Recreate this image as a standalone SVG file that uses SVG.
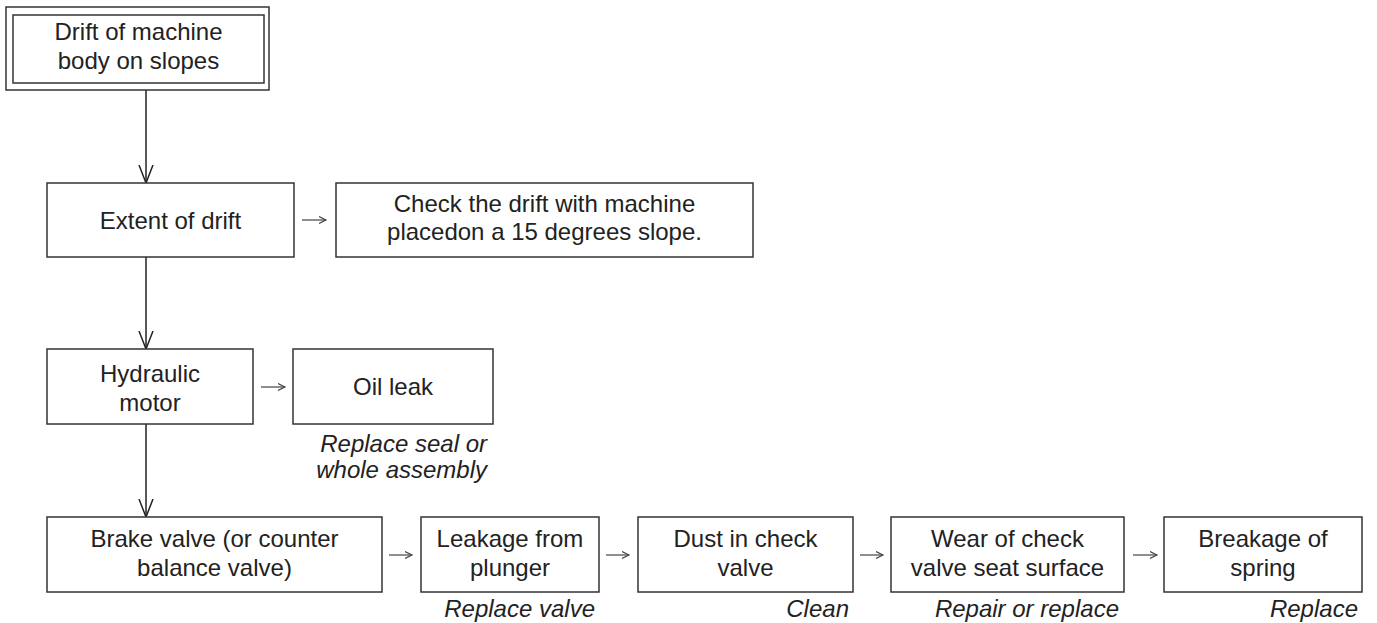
<svg xmlns="http://www.w3.org/2000/svg" width="1377" height="623" viewBox="0 0 1377 623">
  <style>
    .box { fill: #ffffff; stroke: #333333; stroke-width: 1.5; }
    .lbl { font-family: "Liberation Sans", Arial, sans-serif; font-size: 24px; fill: #222222; text-anchor: middle; }
    .note { font-family: "Liberation Sans", Arial, sans-serif; font-size: 24px; font-style: italic; fill: #222222; text-anchor: end; }
    .down { fill: none; stroke: #222222; stroke-width: 1.5; }
    .side { fill: none; stroke: #444444; stroke-width: 1.2; }
  </style>
  <defs>
    <marker id="vee" markerUnits="userSpaceOnUse" markerWidth="20" markerHeight="20" refX="18" refY="8" orient="auto">
      <path d="M0,1 L18,8 L0,15" fill="none" stroke="#222222" stroke-width="1.5"/>
    </marker>
    <marker id="tip" markerUnits="userSpaceOnUse" markerWidth="10" markerHeight="10" refX="7" refY="5" orient="auto">
      <path d="M0,1.5 L7,5 L0,8.5" fill="none" stroke="#444444" stroke-width="1.2"/>
    </marker>
  </defs>

  <rect width="1377" height="623" fill="#ffffff"/>

  <!-- connectors -->
  <g id="connectors">
    <line class="down" x1="146" y1="90" x2="146" y2="183" marker-end="url(#vee)"/>
    <line class="down" x1="146" y1="257" x2="146" y2="349" marker-end="url(#vee)"/>
    <line class="down" x1="146" y1="424" x2="146" y2="517" marker-end="url(#vee)"/>
    <line class="side" x1="302" y1="220" x2="326" y2="220" marker-end="url(#tip)"/>
    <line class="side" x1="261" y1="387" x2="285" y2="387" marker-end="url(#tip)"/>
    <line class="side" x1="389" y1="555" x2="412" y2="555" marker-end="url(#tip)"/>
    <line class="side" x1="606" y1="555" x2="629" y2="555" marker-end="url(#tip)"/>
    <line class="side" x1="860" y1="555" x2="883" y2="555" marker-end="url(#tip)"/>
    <line class="side" x1="1133" y1="555" x2="1157" y2="555" marker-end="url(#tip)"/>
  </g>

  <!-- start node: double border -->
  <g id="n-drift">
    <rect class="box" x="6" y="7" width="263" height="83"/>
    <rect class="box" x="13" y="15" width="251" height="68"/>
    <text class="lbl" x="138.5" y="40">Drift of machine</text>
    <text class="lbl" x="138.5" y="69">body on slopes</text>
  </g>

  <g id="n-extent">
    <rect class="box" x="47" y="183" width="247" height="74"/>
    <text class="lbl" x="170.5" y="229">Extent of drift</text>
  </g>

  <g id="n-check">
    <rect class="box" x="336" y="183" width="417" height="74"/>
    <text class="lbl" x="544.5" y="212">Check the drift with machine</text>
    <text class="lbl" x="544.5" y="240">placedon a 15 degrees slope.</text>
  </g>

  <g id="n-motor">
    <rect class="box" x="47" y="349" width="206" height="75"/>
    <text class="lbl" x="150" y="382">Hydraulic</text>
    <text class="lbl" x="150" y="411">motor</text>
  </g>

  <g id="n-oil">
    <rect class="box" x="293" y="349" width="200" height="75"/>
    <text class="lbl" x="393" y="395">Oil leak</text>
    <text class="note" x="487" y="452">Replace seal or</text>
    <text class="note" x="487" y="478">whole assembly</text>
  </g>

  <g id="n-brake">
    <rect class="box" x="47" y="517" width="335" height="75"/>
    <text class="lbl" x="214.5" y="547">Brake valve (or counter</text>
    <text class="lbl" x="214.5" y="576">balance valve)</text>
  </g>

  <g id="n-plunger">
    <rect class="box" x="421" y="517" width="178" height="75"/>
    <text class="lbl" x="510" y="547">Leakage from</text>
    <text class="lbl" x="510" y="576">plunger</text>
    <text class="note" x="595" y="617">Replace valve</text>
  </g>

  <g id="n-dust">
    <rect class="box" x="638" y="517" width="215" height="75"/>
    <text class="lbl" x="745.5" y="547">Dust in check</text>
    <text class="lbl" x="745.5" y="576">valve</text>
    <text class="note" x="849" y="617">Clean</text>
  </g>

  <g id="n-wear">
    <rect class="box" x="891" y="517" width="233" height="75"/>
    <text class="lbl" x="1007.5" y="547">Wear of check</text>
    <text class="lbl" x="1007.5" y="576">valve seat surface</text>
    <text class="note" x="1119" y="617">Repair or replace</text>
  </g>

  <g id="n-spring">
    <rect class="box" x="1164" y="517" width="198" height="75"/>
    <text class="lbl" x="1263" y="547">Breakage of</text>
    <text class="lbl" x="1263" y="576">spring</text>
    <text class="note" x="1358" y="617">Replace</text>
  </g>
</svg>
